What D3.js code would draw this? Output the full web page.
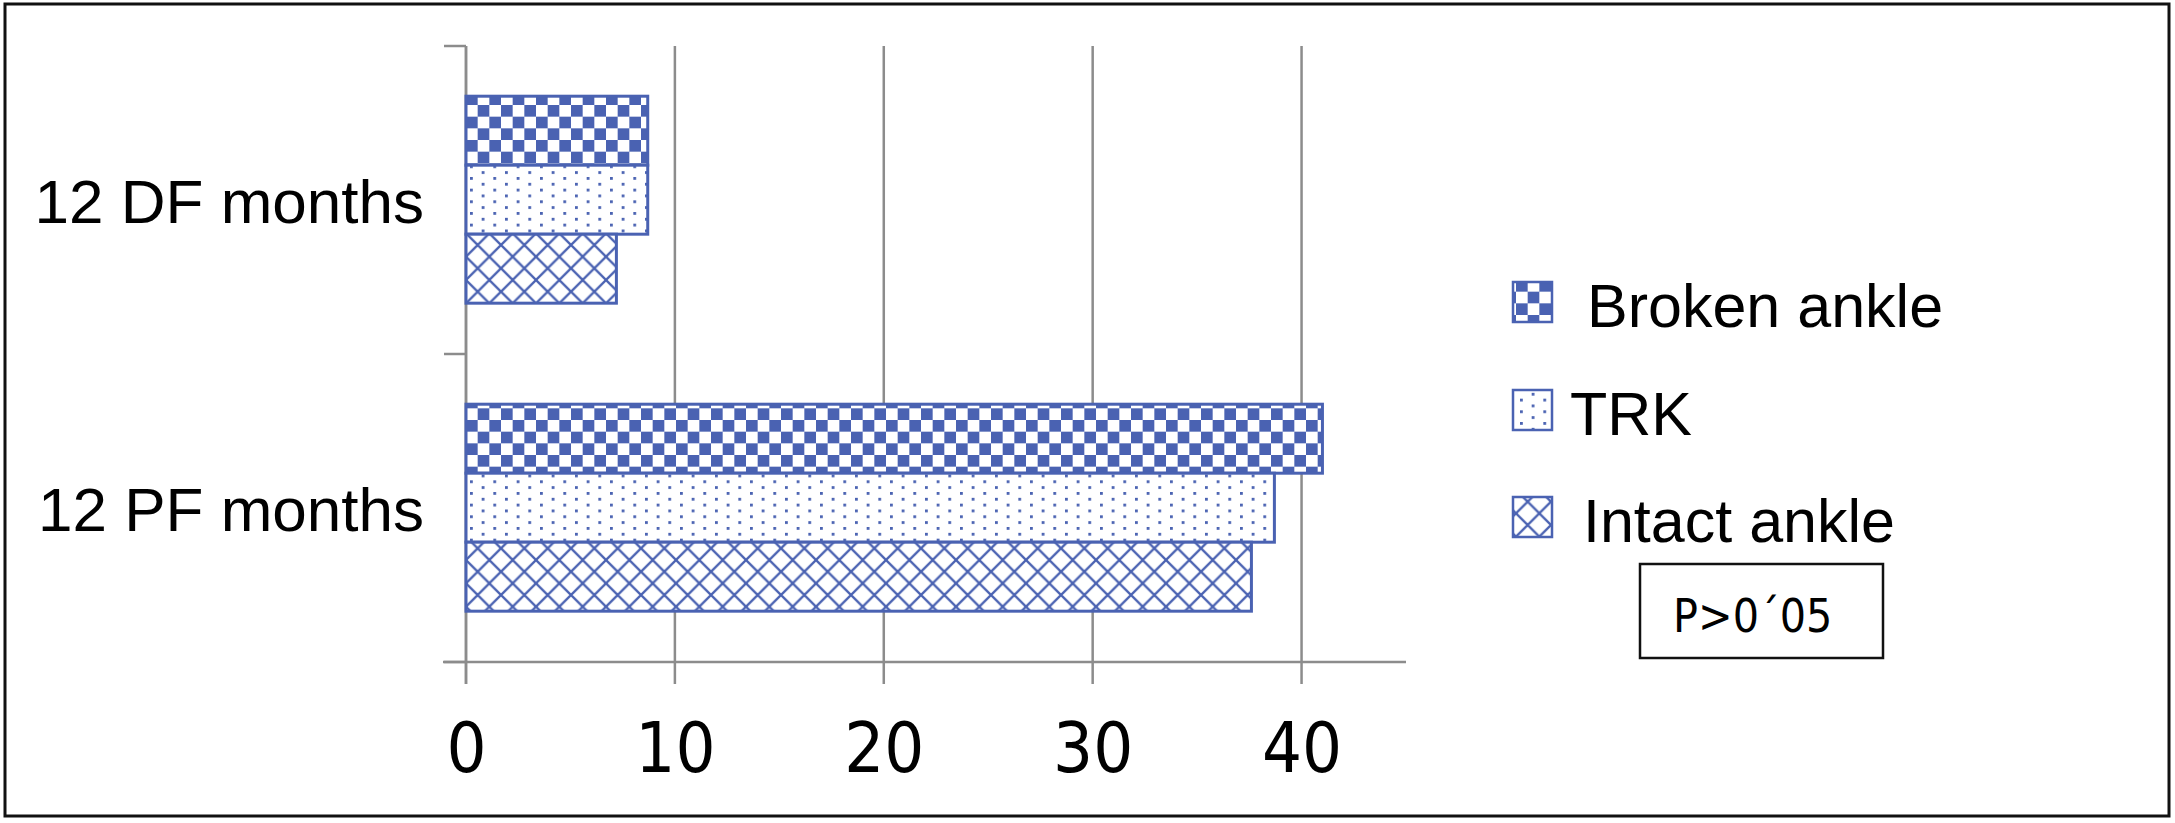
<!DOCTYPE html>
<html>
<head>
<meta charset="utf-8">
<script src="https://cdn.jsdelivr.net/npm/d3@7"></script>
<style>
  html, body { margin: 0; padding: 0; background: #fff; }
  svg { display: block; }
</style>
</head>
<body>
<svg id="chart" width="2175" height="823"></svg>
<script>
// ---- data ----
const categories = ["12 DF months", "12 PF months"];
const seriesNames = ["Broken ankle", "TRK", "Intact ankle"];
const brokenAnkle = [8.7, 41.0];
const trk = [8.7, 38.7];
const intactAnkle = [7.2, 37.6];
const xTickValues = [0, 10, 20, 30, 40];
const annotation = "P>0\u00B405";

const seriesValues = [brokenAnkle, trk, intactAnkle];
const patternIds = ["pat-checker", "pat-dots", "pat-cross"];

const BLUE = "#4a62b2";
const GRID = "#8c8c8c";

const svg = d3.select("#chart");

// ---- patterns ----
const defs = svg.append("defs");
const cell = 70 / 6; // ~11.67
// checkerboard
const pc = defs.append("pattern").attr("id", "pat-checker")
  .attr("patternUnits", "userSpaceOnUse")
  .attr("x", 466).attr("y", 0)
  .attr("width", cell * 2).attr("height", cell * 2);
pc.append("rect").attr("width", cell * 2).attr("height", cell * 2).attr("fill", "#fff");
pc.append("rect").attr("x", 0).attr("y", 0).attr("width", cell).attr("height", cell).attr("fill", BLUE);
pc.append("rect").attr("x", cell).attr("y", cell).attr("width", cell).attr("height", cell).attr("fill", BLUE);
// dots
const pd = defs.append("pattern").attr("id", "pat-dots")
  .attr("patternUnits", "userSpaceOnUse")
  .attr("x", 470).attr("y", 2)
  .attr("width", cell * 2).attr("height", cell);
pd.append("rect").attr("width", cell * 2).attr("height", cell).attr("fill", "#fff");
pd.append("rect").attr("x", 0).attr("y", 0).attr("width", 2.8).attr("height", 2.8).attr("fill", BLUE);
pd.append("rect").attr("x", cell).attr("y", cell / 2).attr("width", 2.8).attr("height", 2.8).attr("fill", BLUE);
// diamond cross-hatch
const w = cell * 2;
const px = defs.append("pattern").attr("id", "pat-cross")
  .attr("patternUnits", "userSpaceOnUse")
  .attr("x", 466).attr("y", 0)
  .attr("width", w).attr("height", w);
px.append("rect").attr("width", w).attr("height", w).attr("fill", "#fff");
px.append("path")
  .attr("d", `M${-2},${-2}L${w + 2},${w + 2}M${w + 2},${-2}L${-2},${w + 2}`)
  .attr("stroke", BLUE).attr("stroke-width", 2.3);

// ---- scales ----
const x = d3.scaleLinear().domain([0, 45]).range([466, 1406]);
const y = d3.scaleBand().domain(categories).range([46, 662]).padding(0);
const bw = y.bandwidth();
const ySeries = d3.scaleBand().domain(seriesNames).range([bw * 0.163, bw * 0.835]).padding(0);

// ---- outer frame ----
svg.append("rect").attr("x", 5).attr("y", 4).attr("width", 2164).attr("height", 812)
  .attr("fill", "none").attr("stroke", "#111").attr("stroke-width", 3);

// ---- gridlines (with tick extension below axis) ----
const gridG = svg.append("g");
gridG.selectAll("line").data(xTickValues).join("line")
  .attr("x1", d => x(d)).attr("x2", d => x(d))
  .attr("y1", 46).attr("y2", 684)
  .attr("stroke", GRID).attr("stroke-width", 2.5);

// x axis line
svg.append("line").attr("x1", 443).attr("x2", x(45)).attr("y1", 662).attr("y2", 662)
  .attr("stroke", GRID).attr("stroke-width", 2.5);

// x axis labels via d3 axis
const xAxis = d3.axisBottom(x).tickValues(xTickValues).tickSize(0).tickPadding(0);
const gx = svg.append("g").attr("transform", "translate(0,722)").call(xAxis);
gx.select(".domain").remove();
gx.selectAll("text")
  .attr("dy", "0.71em")
  .attr("fill", "#000")
  .style("font-family", "'Liberation Sans Narrow', 'DejaVu Sans Condensed', 'Arial Narrow', sans-serif")
  .style("font-size", "70px");

// ---- y axis ----
const yTicksPos = [46, ...categories.map(c => y(c) + bw)];
svg.append("line").attr("x1", 466).attr("x2", 466).attr("y1", 46).attr("y2", 684)
  .attr("stroke", GRID).attr("stroke-width", 2.5);
svg.append("g").selectAll("line").data(yTicksPos).join("line")
  .attr("x1", 444).attr("x2", 466).attr("y1", d => d).attr("y2", d => d)
  .attr("stroke", GRID).attr("stroke-width", 2.5);

// category labels
svg.append("g").selectAll("text").data(categories).join("text")
  .attr("x", 424)
  .attr("y", d => y(d) + bw / 2)
  .attr("dy", "0.37em")
  .attr("text-anchor", "end")
  .style("font-family", "'Liberation Sans', Arial, sans-serif")
  .style("font-size", "62px")
  .attr("fill", "#000")
  .text(d => d);

// ---- bars ----
const barG = svg.append("g");
seriesNames.forEach((s, si) => {
  barG.append("g").selectAll("rect").data(categories.map((c, ci) => ({ c, v: seriesValues[si][ci] })))
    .join("rect")
    .attr("x", x(0))
    .attr("y", d => y(d.c) + ySeries(s))
    .attr("width", d => x(d.v) - x(0))
    .attr("height", ySeries.bandwidth())
    .attr("fill", `url(#${patternIds[si]})`)
    .attr("stroke", BLUE).attr("stroke-width", 3);
});

// ---- legend ----
const legendY = [282, 390, 497];
const legendTextX = [1587, 1570, 1583];
const lg = svg.append("g");
seriesNames.forEach((s, i) => {
  lg.append("rect").attr("x", 1513).attr("y", legendY[i]).attr("width", 39).attr("height", 40)
    .attr("fill", `url(#${patternIds[i]})`).attr("stroke", BLUE).attr("stroke-width", 2.5);
  lg.append("text").attr("x", legendTextX[i]).attr("y", legendY[i] + 45)
    .style("font-family", "'Liberation Sans', Arial, sans-serif")
    .style("font-size", "61px").attr("fill", "#000")
    .text(s);
});

// ---- annotation box ----
svg.append("rect").attr("x", 1640).attr("y", 564).attr("width", 243).attr("height", 94)
  .attr("fill", "#fff").attr("stroke", "#111").attr("stroke-width", 2.5);
svg.append("text").attr("x", 1673).attr("y", 632)
  .style("font-family", "'Liberation Sans Narrow', 'DejaVu Sans Condensed', 'Arial Narrow', sans-serif")
  .style("font-size", "46px").attr("fill", "#000")
  .text(annotation);
</script>
</body>
</html>
